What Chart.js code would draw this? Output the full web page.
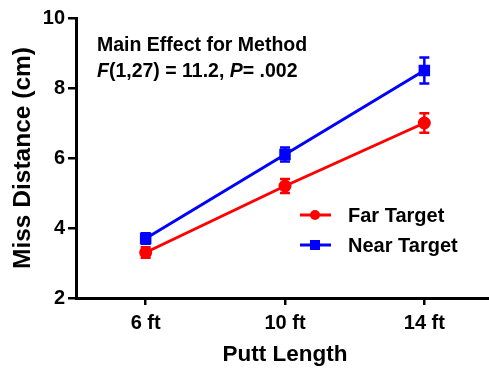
<!DOCTYPE html>
<html>
<head>
<meta charset="utf-8">
<script src="https://cdn.jsdelivr.net/npm/chart.js@4.4.0/dist/chart.umd.min.js"></script>
<style>
  html, body { margin: 0; padding: 0; background: #fff; overflow: hidden; }
</style>
</head>
<body>
<canvas id="grafico" width="503" height="372"></canvas>
<script>
// --- DADOS ---
const categorias = ["6 ft", "10 ft", "14 ft"];
const farTarget = [3.3, 5.2, 7.0];
const farErro = [0.15, 0.2, 0.28];
const nearTarget = [3.7, 6.1, 8.5];
const nearErro = [0.15, 0.2, 0.37];
const yTicks = [2, 4, 6, 8, 10];

const FONTE = "'Liberation Sans', Arial, sans-serif";

// barras de erro desenhadas pelas escalas
const errorBars = {
    id: "errorBars",
    afterDatasetsDraw(chart) {
        const ctx = chart.ctx;
        const x = chart.scales.x, y = chart.scales.y;
        chart.data.datasets.forEach(ds => {
            ctx.save();
            ctx.strokeStyle = ds.borderColor;
            ctx.lineWidth = 2.5;
            ds.data.forEach((v, i) => {
                const px = x.getPixelForValue(i);
                const top = y.getPixelForValue(v + ds.erro[i]);
                const bot = y.getPixelForValue(v - ds.erro[i]);
                ctx.beginPath();
                ctx.moveTo(px, top); ctx.lineTo(px, bot);
                ctx.moveTo(px - 5, top); ctx.lineTo(px + 5, top);
                ctx.moveTo(px - 5, bot); ctx.lineTo(px + 5, bot);
                ctx.stroke();
            });
            ctx.restore();
        });
    }
};

// legenda e anotação dentro da área
const textos = {
    id: "textos",
    afterDraw(chart) {
        const ctx = chart.ctx;
        ctx.save();
        ctx.fillStyle = "#000";
        ctx.textBaseline = "alphabetic";
        ctx.font = "bold 19.5px " + FONTE;
        ctx.fillText("Main Effect for Method", 97, 51);

        // linha com F e P em itálico
        let xx = 97;
        const partes = [["F", true], ["(1,27) = 11.2, ", false], ["P", true], ["= .002", false]];
        partes.forEach(([t, it]) => {
            ctx.font = (it ? "italic " : "") + "bold 19.5px " + FONTE;
            ctx.fillText(t, xx, 77);
            xx += ctx.measureText(t).width;
        });

        // legenda
        ctx.textBaseline = "middle";
        chart.data.datasets.forEach((ds, i) => {
            const ly = 215 + i * 30;
            ctx.strokeStyle = ds.borderColor;
            ctx.fillStyle = ds.borderColor;
            ctx.lineWidth = 3;
            ctx.beginPath();
            ctx.moveTo(300, ly); ctx.lineTo(331, ly);
            ctx.stroke();
            if (ds.pointStyle === "rect") {
                ctx.fillRect(310, ly - 5, 10, 10);
            } else {
                ctx.beginPath();
                ctx.arc(315, ly, 5, 0, Math.PI * 2);
                ctx.fill();
            }
            ctx.fillStyle = "#000";
            ctx.font = "bold 20px " + FONTE;
            ctx.fillText(ds.label, 348, ly + 1);
        });
        ctx.restore();
    }
};

new Chart(document.getElementById("grafico"), {
    type: "line",
    data: {
        labels: categorias,
        datasets: [
            {
                label: "Far Target",
                data: farTarget,
                erro: farErro,
                borderColor: "#ff0000",
                backgroundColor: "#ff0000",
                borderWidth: 3,
                pointStyle: "circle",
                pointRadius: 5,
                tension: 0
            },
            {
                label: "Near Target",
                data: nearTarget,
                erro: nearErro,
                borderColor: "#0000ff",
                backgroundColor: "#0000ff",
                borderWidth: 3,
                pointStyle: "rect",
                pointRadius: 6,
                tension: 0
            }
        ]
    },
    options: {
        responsive: false,
        animation: false,
        layout: { padding: { top: 18, right: 0, left: 0, bottom: 0 } },
        plugins: { legend: { display: false }, tooltip: { enabled: false } },
        scales: {
            x: {
                offset: true,
                grid: { drawOnChartArea: false, drawTicks: true, tickLength: 7, color: "#000", lineWidth: 2.5 },
                border: { color: "#000", width: 3 },
                ticks: { color: "#000", font: { family: FONTE, size: 20, weight: "bold" }, padding: 6 },
                title: { display: true, text: "Putt Length", color: "#000", font: { family: FONTE, size: 22.5, weight: "bold" }, padding: { top: 16 } },
                afterFit: s => { s.height = 74; }
            },
            y: {
                min: 2,
                max: 10,
                afterBuildTicks: s => { s.ticks = yTicks.map(v => ({ value: v })); },
                grid: { drawOnChartArea: false, drawTicks: true, tickLength: 8, color: "#000", lineWidth: 2.5 },
                border: { color: "#000", width: 3 },
                ticks: { color: "#000", font: { family: FONTE, size: 20, weight: "bold" }, padding: 3 },
                title: { display: true, text: "Miss Distance (cm)", color: "#000", font: { family: FONTE, size: 24.5, weight: "bold" }, padding: { top: 9 } },
                afterFit: s => { s.width = 76; }
            }
        }
    },
    plugins: [errorBars, textos]
});
</script>
</body>
</html>
